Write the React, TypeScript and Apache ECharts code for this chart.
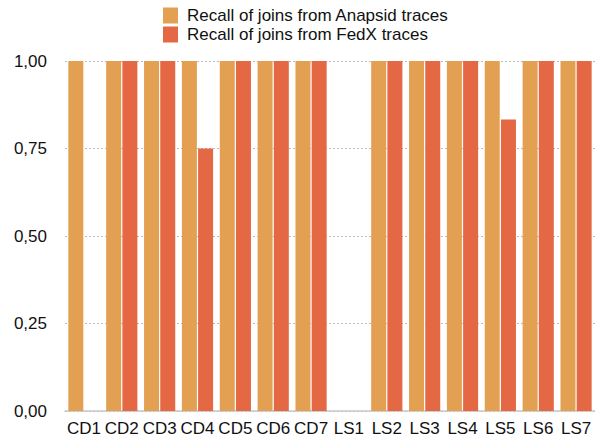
import React, { useEffect, useRef } from "react";
import * as echarts from "echarts";

const categories = ["CD1", "CD2", "CD3", "CD4", "CD5", "CD6", "CD7", "LS1", "LS2", "LS3", "LS4", "LS5", "LS6", "LS7"];
const anapsid = [1, 1, 1, 1, 1, 1, 1, 0, 1, 1, 1, 1, 1, 1];
const fedx = [0, 1, 1, 0.75, 1, 1, 1, 0, 1, 1, 1, 0.833, 1, 1];
const seriesNames = ["Recall of joins from Anapsid traces", "Recall of joins from FedX traces"];

export default function App() {
  const ref = useRef<HTMLDivElement>(null);
  useEffect(() => {
    const chart = echarts.init(ref.current!, null, { renderer: "svg" });
    const font = "'Liberation Sans', Arial, Helvetica, sans-serif";
    chart.setOption({
      animation: false,
      textStyle: { fontFamily: font },
      legend: {
        orient: "vertical",
        left: 160,
        top: 7,
        itemWidth: 15,
        itemHeight: 16,
        itemGap: 2,
        icon: "rect",
        padding: [0, 0, 0, 3],
        textStyle: { fontSize: 17, color: "#111", fontFamily: font, padding: [0, 0, 0, 4] },
        data: seriesNames,
      },
      grid: { left: 65, right: 0, top: 61, bottom: 28, containLabel: false },
      xAxis: {
        type: "category",
        data: categories,
        axisLine: { lineStyle: { color: "#c8c8c8", width: 1.5 } },
        axisTick: { show: false },
        axisLabel: { fontSize: 17, color: "#111", margin: 9, fontFamily: font, interval: 0 },
      },
      yAxis: {
        type: "value",
        min: 0,
        max: 1,
        interval: 0.25,
        axisLine: { show: false },
        axisTick: { show: false },
        axisLabel: {
          fontSize: 17,
          color: "#111",
          margin: 18,
          fontFamily: font,
          formatter: (v: number) => v.toFixed(2).replace(".", ","),
        },
        splitLine: { lineStyle: { color: "#bbb", type: [2, 2], width: 1 } },
      },
      series: [
        {
          name: seriesNames[0],
          type: "bar",
          data: anapsid,
          barWidth: 15,
          barGap: "8%",
          itemStyle: { color: "#E3A052" },
        },
        {
          name: seriesNames[1],
          type: "bar",
          data: fedx,
          barWidth: 15,
          itemStyle: { color: "#E46844" },
        },
      ],
    });
    return () => chart.dispose();
  }, []);
  return <div ref={ref} style={{ width: 595, height: 439, position: "absolute", left: 0, top: 0 }} />;
}
